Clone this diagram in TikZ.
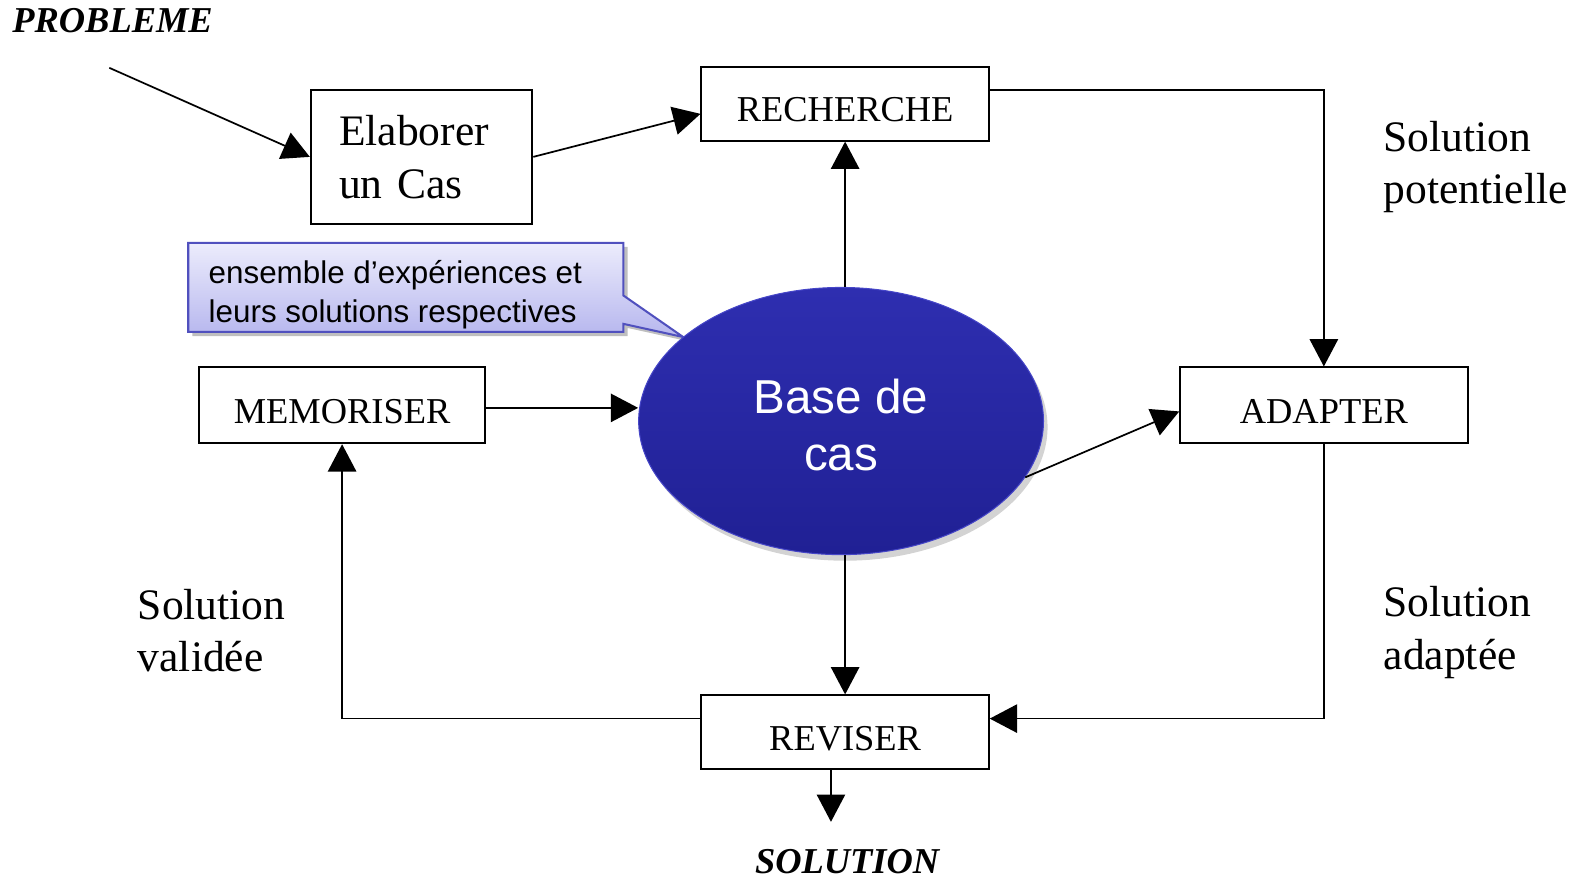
\documentclass[tikz,border=0pt]{standalone}
\usepackage{fontspec}
\setmainfont{Liberation Serif}
\newfontfamily\arl{Liberation Sans}
\usetikzlibrary{arrows.meta,shapes.geometric,shadows}
\definecolor{basetop}{RGB}{46,46,176}
\definecolor{basebot}{RGB}{32,32,148}
\definecolor{baserim}{RGB}{70,70,200}
\definecolor{calltop}{RGB}{236,236,252}
\definecolor{callbot}{RGB}{182,182,238}
\definecolor{callrim}{RGB}{80,80,190}
\begin{document}
\begin{tikzpicture}[x=1pt,y=-1pt,
 box/.style={draw,line width=1.8pt,inner sep=0pt,font=\fontsize{36}{43}\selectfont},
 capbox/.style={box,text height=36pt,text depth=0pt},
 conn/.style={line width=1.7pt,-{Triangle[length=27pt,width=28pt]}},
 lbl/.style={align=left,anchor=west,inner sep=0pt,font=\fontsize{43}{52}\selectfont},
 ttl/.style={inner sep=0pt,font=\fontsize{36}{43}\selectfont\bfseries\itshape}]

\useasboundingbox (0,0) rectangle (1568,869);

% boxes
\node[box,minimum width=219pt,minimum height=132pt,text width=163pt,align=left,font=\fontsize{43}{52}\selectfont] (elab) at (416.5,155) {Elaborer\\un Cas};
\node[capbox,minimum width=284pt,minimum height=73pt] (rech) at (835,102.5) {RECHERCHE};
\node[capbox,minimum width=284pt,minimum height=75pt] (adapt) at (1308,400.5) {ADAPTER};
\node[capbox,minimum width=282pt,minimum height=75pt] (memo) at (338,400.5) {MEMORISER};
\node[capbox,minimum width=284pt,minimum height=73pt] (rev) at (835,723.5) {REVISER};

% callout
\fill[black,opacity=0.25] (190,244) -- (620,244) -- (620,296) -- (679,337) -- (620,324) -- (620,332) -- (190,332) -- cycle;
\shadedraw[top color=calltop,bottom color=callbot,draw=callrim,line width=2pt,line join=miter]
  (186,240) -- (616,240) -- (616,292) -- (675,333) -- (616,320) -- (616,328) -- (186,328) -- cycle;
\node[align=left,anchor=west,inner sep=0pt,font=\arl\fontsize{31}{38}\selectfont] (note) at (206,291) {ensemble d’expériences et\\leurs solutions respectives};

% base de cas
\node[ellipse,minimum width=400pt,minimum height=264pt,inner sep=0pt,
  top color=basetop,bottom color=basebot,draw=baserim,line width=1pt,
  drop shadow={opacity=0.35,shadow xshift=4pt,shadow yshift=-6pt}] (base) at (831,416) {};
\node[text=white,align=center,inner sep=0pt,font=\arl\fontsize{47}{56}\selectfont] (basetxt) at (831,420) {Base de\\cas};

% labels
\node[ttl,anchor=west] (prob) at (12,20) {PROBLEME};
\node[ttl] (sol) at (837,851) {SOLUTION};
\node[lbl] (lpot) at (1367,165) {Solution\\potentielle};
\node[lbl] (lada) at (1367,625) {Solution\\adaptée};
\node[lbl] (lval) at (136,623) {Solution\\validée};

% connectors
\coordinate (pstart) at (108,67);
\draw[conn] (pstart) -- (elab.west);
\draw[conn] (elab.east) -- ([yshift=-10pt]rech.west);
\draw[conn] ([yshift=13.5pt]rech.east) -| (adapt.north);
\draw[conn] (rech.south |- base.north) -- (rech.south);
\draw[conn] (base.-17) -- ([yshift=-6pt]adapt.west);
\draw[conn] ([yshift=-2.5pt]memo.east) -- ([yshift=-2.5pt]memo.east -| base.west);
\draw[conn] (rev.north |- base.south) -- (rev.north);
\draw[conn] (adapt.south) |- ([yshift=13.5pt]rev.east);
\draw[conn] ([yshift=13.5pt]rev.west) -| (memo.south);
\coordinate (solend) at (821,812);
\draw[conn] (rev.south -| solend) -- (solend);
\end{tikzpicture}
\end{document}
